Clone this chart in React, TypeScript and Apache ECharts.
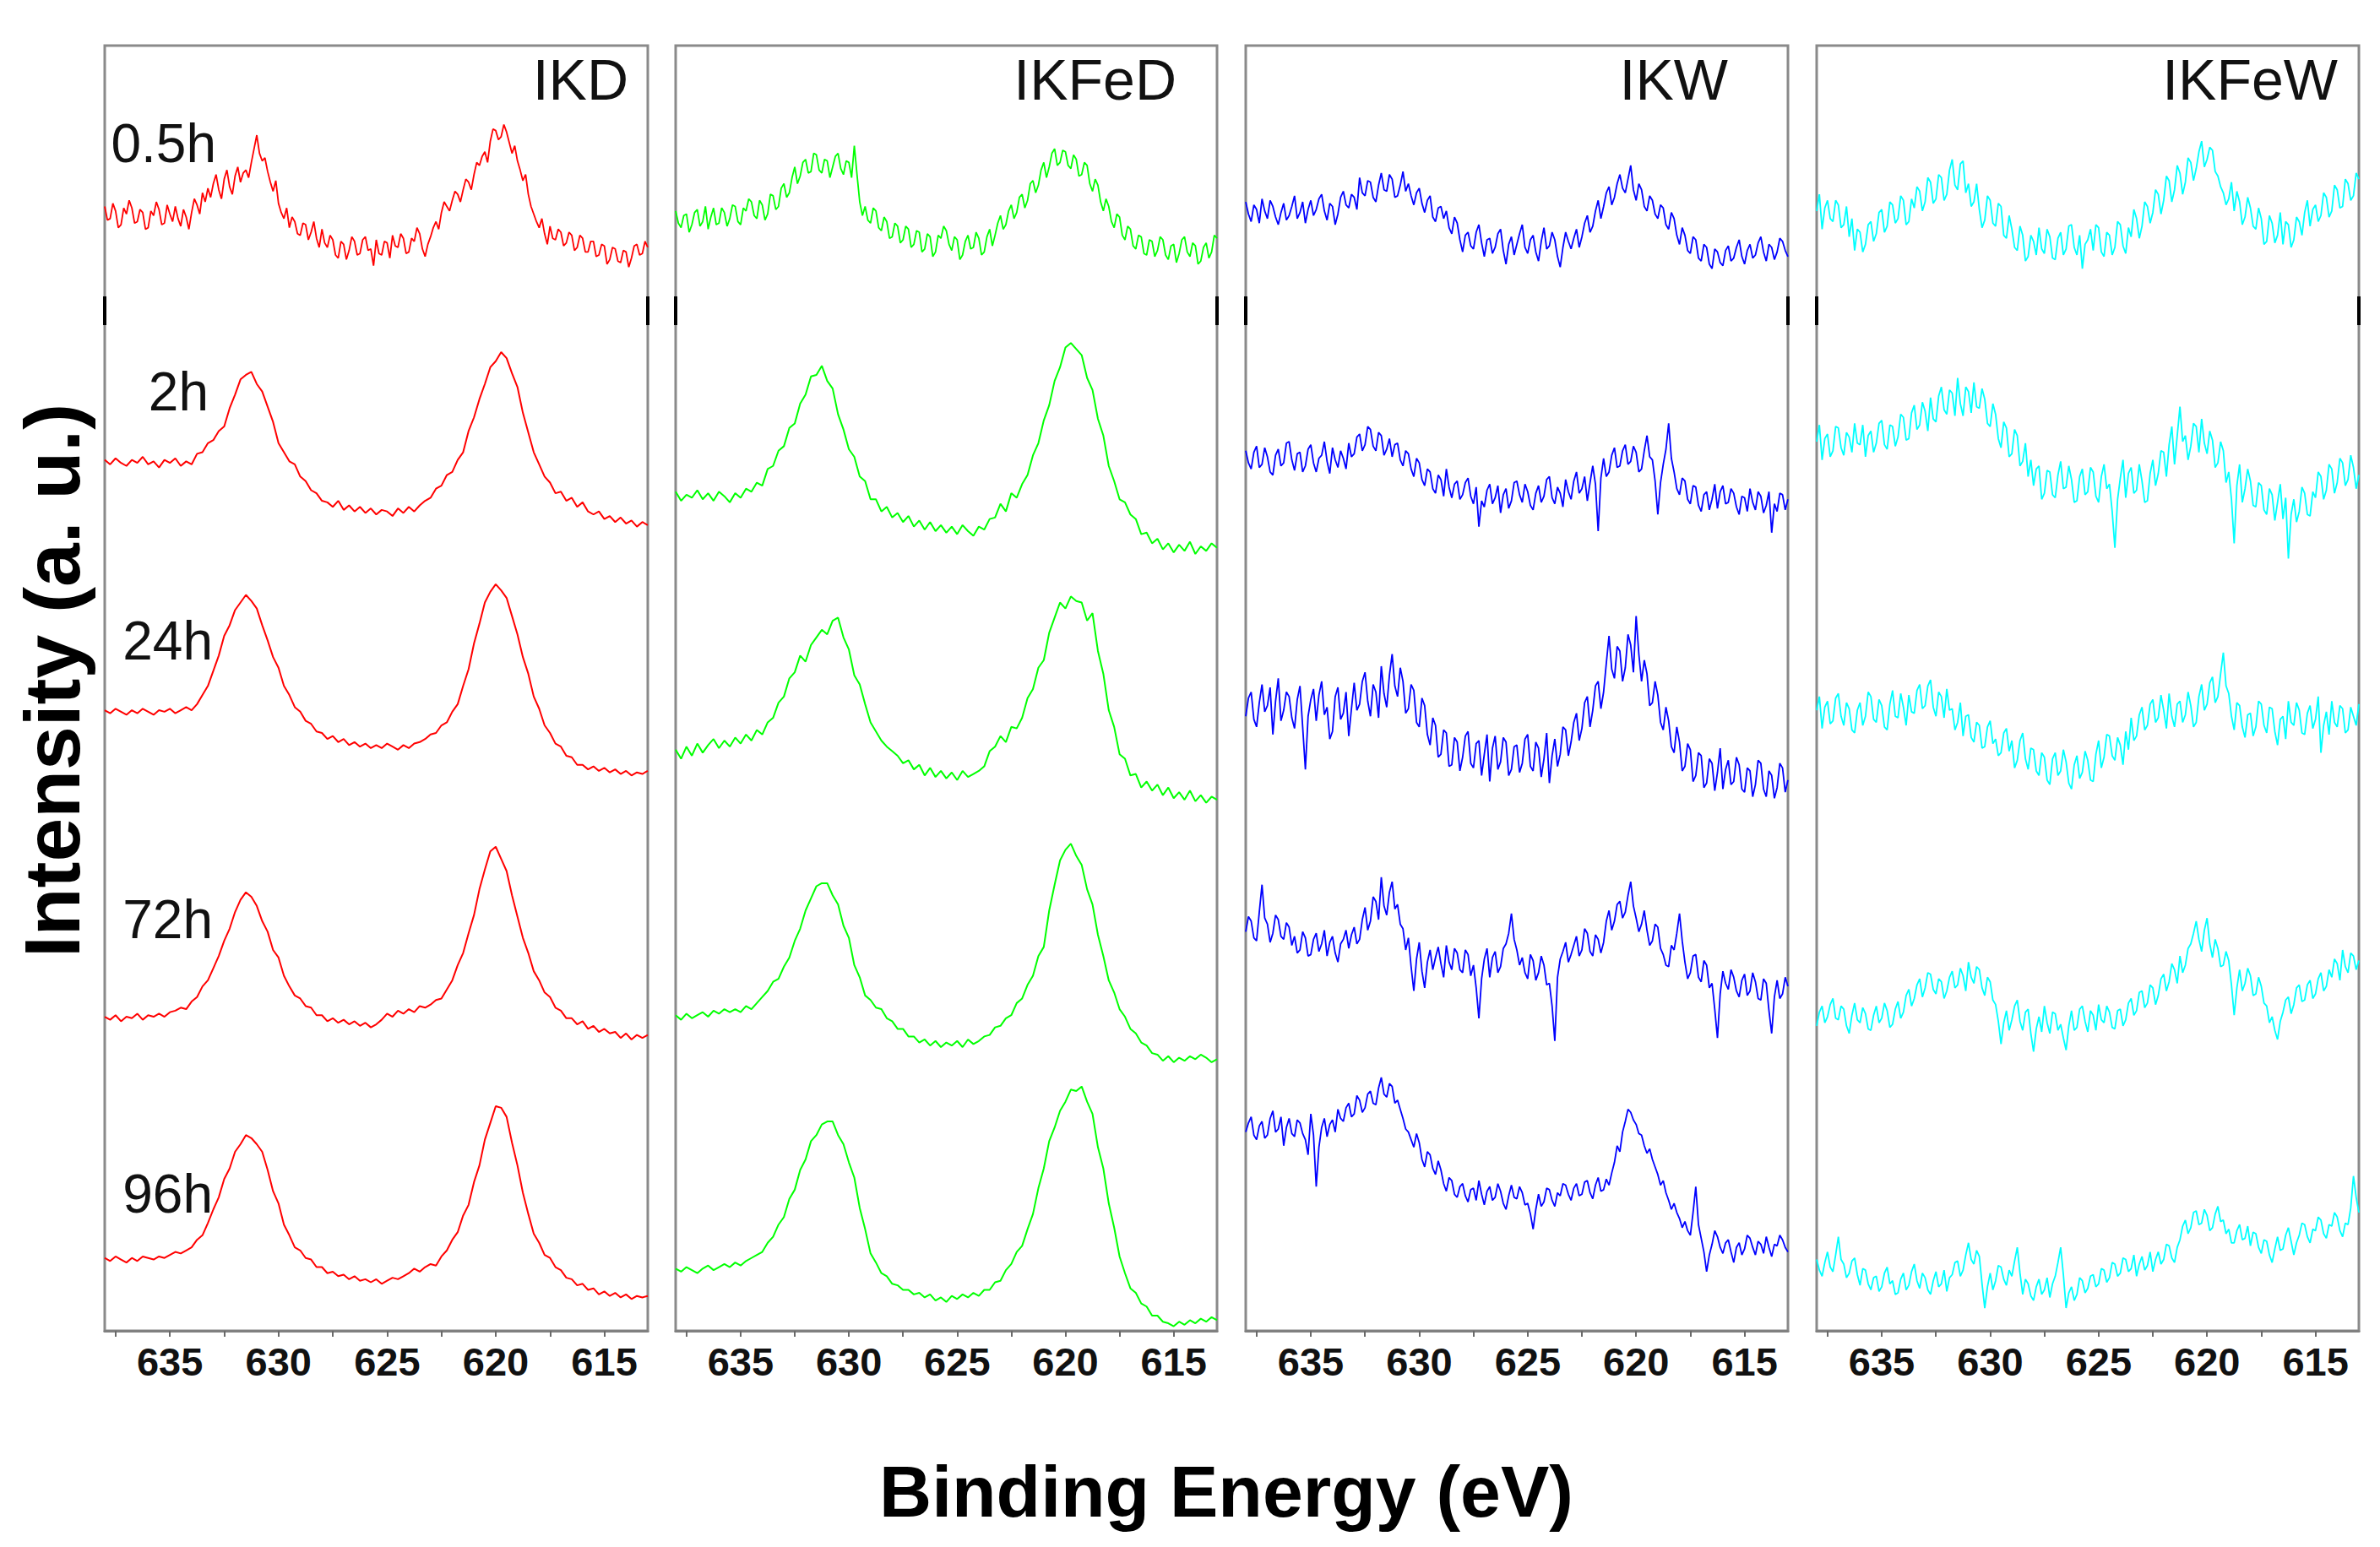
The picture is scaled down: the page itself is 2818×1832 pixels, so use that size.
import { useEffect, useRef } from 'react';
import * as echarts from 'echarts';

// binding energy grids (eV): coarse for the smooth scans, fine for the noisy ones
const energy = [
  638, 637.75, 637.5, 637.25, 637, 636.75, 636.5, 636.25, 636, 635.75, 635.5, 635.25, 635, 634.75, 634.5, 634.25,
  634, 633.75, 633.5, 633.25, 633, 632.75, 632.5, 632.25, 632, 631.75, 631.5, 631.25, 631, 630.75, 630.5, 630.25,
  630, 629.75, 629.5, 629.25, 629, 628.75, 628.5, 628.25, 628, 627.75, 627.5, 627.25, 627, 626.75, 626.5, 626.25,
  626, 625.75, 625.5, 625.25, 625, 624.75, 624.5, 624.25, 624, 623.75, 623.5, 623.25, 623, 622.75, 622.5, 622.25,
  622, 621.75, 621.5, 621.25, 621, 620.75, 620.5, 620.25, 620, 619.75, 619.5, 619.25, 619, 618.75, 618.5, 618.25,
  618, 617.75, 617.5, 617.25, 617, 616.75, 616.5, 616.25, 616, 615.75, 615.5, 615.25, 615, 614.75, 614.5, 614.25,
  614, 613.75, 613.5, 613.25, 613,
];
const energyFine = [
  638, 637.875, 637.75, 637.625, 637.5, 637.375, 637.25, 637.125,
  637, 636.875, 636.75, 636.625, 636.5, 636.375, 636.25, 636.125,
  636, 635.875, 635.75, 635.625, 635.5, 635.375, 635.25, 635.125,
  635, 634.875, 634.75, 634.625, 634.5, 634.375, 634.25, 634.125,
  634, 633.875, 633.75, 633.625, 633.5, 633.375, 633.25, 633.125,
  633, 632.875, 632.75, 632.625, 632.5, 632.375, 632.25, 632.125,
  632, 631.875, 631.75, 631.625, 631.5, 631.375, 631.25, 631.125,
  631, 630.875, 630.75, 630.625, 630.5, 630.375, 630.25, 630.125,
  630, 629.875, 629.75, 629.625, 629.5, 629.375, 629.25, 629.125,
  629, 628.875, 628.75, 628.625, 628.5, 628.375, 628.25, 628.125,
  628, 627.875, 627.75, 627.625, 627.5, 627.375, 627.25, 627.125,
  627, 626.875, 626.75, 626.625, 626.5, 626.375, 626.25, 626.125,
  626, 625.875, 625.75, 625.625, 625.5, 625.375, 625.25, 625.125,
  625, 624.875, 624.75, 624.625, 624.5, 624.375, 624.25, 624.125,
  624, 623.875, 623.75, 623.625, 623.5, 623.375, 623.25, 623.125,
  623, 622.875, 622.75, 622.625, 622.5, 622.375, 622.25, 622.125,
  622, 621.875, 621.75, 621.625, 621.5, 621.375, 621.25, 621.125,
  621, 620.875, 620.75, 620.625, 620.5, 620.375, 620.25, 620.125,
  620, 619.875, 619.75, 619.625, 619.5, 619.375, 619.25, 619.125,
  619, 618.875, 618.75, 618.625, 618.5, 618.375, 618.25, 618.125,
  618, 617.875, 617.75, 617.625, 617.5, 617.375, 617.25, 617.125,
  617, 616.875, 616.75, 616.625, 616.5, 616.375, 616.25, 616.125,
  616, 615.875, 615.75, 615.625, 615.5, 615.375, 615.25, 615.125,
  615, 614.875, 614.75, 614.625, 614.5, 614.375, 614.25, 614.125,
  614, 613.875, 613.75, 613.625, 613.5, 613.375, 613.25, 613.125,
  613,
];

const panelNames = ['IKD', 'IKFeD', 'IKW', 'IKFeW'];
const panelColors = ['#ff0000', '#00ff00', '#0000ff', '#00ffff'];
const timeLabels = ['0.5h', '2h', '24h', '72h', '96h'];
const xTickLabels = [615, 620, 625, 630, 635];
const xTickMarks = [615, 617.5, 620, 622.5, 625, 627.5, 630, 632.5, 635, 637.5];

// stacked intensities (offset already applied, arbitrary units)
const ikd05 = [
  741, 732, 733, 743, 738, 727, 729, 740, 736, 745, 740, 730, 731, 739, 737, 726, 727, 738, 735, 744,
  739, 729, 730, 742, 736, 731, 741, 733, 728, 739, 734, 726, 737, 746, 742, 736, 750, 744, 753, 747,
  756, 762, 752, 746, 759, 765, 754, 749, 761, 767, 757, 763, 765, 760, 770, 779, 788, 776, 771, 773,
  764, 757, 751, 758, 743, 737, 733, 740, 727, 734, 731, 723, 722, 730, 729, 719, 724, 731, 720, 714,
  726, 717, 714, 722, 719, 709, 707, 718, 716, 706, 712, 721, 718, 709, 710, 719, 721, 712, 713, 702,
  719, 710, 709, 718, 717, 707, 722, 715, 714, 723, 720, 710, 711, 720, 718, 727, 723, 713, 708, 716,
  721, 727, 731, 726, 737, 744, 741, 738, 745, 751, 749, 744, 752, 759, 757, 752, 762, 770, 768, 774,
  777, 770, 784, 792, 791, 785, 787, 795, 790, 783, 776, 781, 771, 765, 758, 762, 749, 741, 736, 731,
  727, 733, 723, 716, 728, 720, 719, 726, 724, 715, 717, 724, 722, 712, 714, 722, 720, 711, 711, 718,
  718, 708, 709, 716, 715, 703, 706, 714, 713, 705, 704, 712, 711, 701, 707, 715, 716, 709, 710, 718, 714,
];
const ikd2 = [
  574, 571, 575, 572, 570, 574, 572, 576, 571, 573, 569, 574, 572, 575, 570, 573, 571, 578, 579, 585,
  587, 593, 596, 608, 617, 627, 630, 632, 624, 619, 609, 599, 585, 579, 573, 571, 563, 560, 554, 552,
  547, 546, 543, 547, 541, 544, 540, 543, 539, 542, 538, 541, 540, 537, 542, 539, 543, 540, 544, 547,
  549, 555, 557, 564, 566, 574, 579, 593, 602, 614, 624, 635, 639, 645, 641, 631, 622, 605, 592, 579,
  571, 563, 559, 552, 553, 547, 549, 543, 546, 540, 538, 540, 535, 537, 533, 536, 532, 534, 530, 533, 531,
];
const ikd24 = [
  409, 407, 410, 408, 406, 409, 407, 410, 408, 406, 409, 408, 410, 407, 409, 411, 409, 413, 419, 425,
  435, 445, 458, 465, 475, 480, 485, 481, 476, 465, 455, 444, 437, 425, 419, 411, 408, 402, 400, 395,
  394, 390, 392, 388, 390, 386, 388, 385, 387, 384, 386, 384, 387, 385, 383, 386, 384, 387, 388, 390,
  393, 394, 399, 401, 408, 413, 425, 436, 453, 466, 480, 487, 492, 488, 483, 471, 459, 444, 433, 418,
  410, 399, 394, 387, 385, 379, 378, 373, 373, 370, 372, 369, 371, 368, 370, 367, 369, 366, 368, 367, 369,
];
const ikd72 = [
  207, 205, 208, 204, 207, 206, 209, 205, 208, 207, 209, 207, 210, 211, 213, 212, 217, 220, 227, 231,
  239, 247, 257, 265, 276, 284, 289, 286, 280, 270, 263, 251, 246, 234, 227, 221, 219, 214, 213, 208,
  208, 204, 206, 203, 205, 202, 204, 201, 203, 200, 202, 205, 209, 207, 211, 209, 212, 210, 214, 213,
  215, 218, 219, 225, 231, 241, 249, 262, 274, 291, 304, 316, 319, 311, 303, 287, 273, 259, 249, 237,
  231, 223, 220, 213, 211, 206, 206, 202, 204, 199, 201, 197, 199, 196, 197, 193, 196, 192, 195, 193, 195,
];
const ikd96 = [
  48, 46, 49, 47, 45, 48, 46, 49, 48, 47, 49, 48, 50, 52, 51, 53, 55, 60, 63, 71,
  80, 88, 100, 107, 118, 123, 129, 127, 123, 118, 106, 92, 84, 70, 63, 55, 53, 48, 47, 42,
  42, 38, 39, 36, 37, 34, 36, 33, 34, 32, 34, 31, 33, 35, 34, 36, 38, 41, 39, 42,
  44, 43, 49, 53, 60, 65, 76, 83, 98, 109, 126, 137, 148, 147, 141, 124, 109, 91, 77, 64,
  58, 50, 48, 42, 40, 35, 34, 30, 31, 27, 28, 24, 26, 23, 25, 22, 24, 21, 23, 22, 23,
];

const ikfed05 = [
  738, 730, 727, 735, 736, 724, 729, 737, 739, 728, 731, 741, 726, 734, 740, 729, 730, 740, 737, 728,
  733, 742, 741, 731, 729, 740, 738, 746, 744, 735, 733, 745, 742, 732, 736, 749, 748, 739, 741, 753,
  756, 747, 750, 760, 767, 756, 761, 770, 772, 763, 764, 776, 775, 765, 763, 772, 771, 760, 767, 774,
  776, 766, 762, 771, 770, 760, 781, 762, 744, 735, 741, 732, 730, 740, 738, 727, 725, 734, 731, 720,
  721, 730, 728, 717, 719, 728, 726, 714, 716, 725, 724, 711, 713, 723, 721, 708, 711, 722, 720, 728,
  725, 716, 712, 721, 719, 706, 709, 718, 722, 713, 714, 724, 720, 709, 711, 721, 726, 715, 722, 730,
  735, 726, 729, 738, 742, 733, 737, 747, 749, 740, 745, 756, 758, 750, 755, 765, 770, 760, 767, 776,
  779, 768, 770, 778, 777, 768, 766, 775, 772, 761, 762, 770, 768, 756, 751, 759, 755, 744, 738, 746,
  741, 731, 727, 736, 734, 722, 719, 728, 726, 715, 713, 722, 721, 710, 709, 719, 718, 708, 712, 721,
  719, 709, 706, 715, 716, 704, 710, 719, 721, 711, 708, 717, 715, 703, 705, 714, 717, 707, 711, 722, 720,
];
const ikfed2 = [
  553, 547, 551, 549, 554, 548, 552, 547, 553, 550, 546, 552, 549, 555, 553, 559, 557, 568, 570, 580,
  583, 595, 598, 611, 617, 629, 630, 636, 626, 621, 604, 594, 581, 576, 563, 560, 548, 548, 540, 543,
  536, 539, 533, 537, 530, 534, 528, 533, 527, 531, 526, 530, 525, 531, 527, 524, 530, 528, 535, 536,
  545, 540, 552, 549, 558, 564, 577, 585, 600, 610, 626, 635, 648, 651, 647, 643, 628, 620, 601, 590,
  570, 560, 548, 546, 538, 535, 525, 526, 519, 522, 515, 519, 513, 518, 514, 520, 512, 517, 514, 519, 516,
];
const ikfed24 = [
  383, 377, 385, 379, 387, 381, 386, 390, 384, 389, 385, 391, 387, 393, 389, 396, 393, 401, 404, 414,
  418, 430, 434, 445, 441, 452, 457, 462, 459, 468, 470, 457, 449, 432, 426, 413, 401, 395, 389, 385,
  382, 379, 374, 376, 370, 373, 366, 371, 365, 369, 364, 368, 363, 369, 365, 367, 369, 372, 382, 385,
  392, 388, 398, 397, 404, 417, 423, 437, 442, 460, 470, 480, 476, 484, 481, 480, 468, 473, 448, 433,
  409, 398, 380, 377, 366, 367, 358, 362, 356, 360, 353, 358, 351, 355, 350, 356, 349, 353, 348, 352, 350,
];
const ikfed72 = [
  208, 205, 209, 206, 208, 210, 207, 211, 209, 212, 210, 212, 210, 214, 212, 216, 220, 224, 230, 232,
  240, 246, 257, 265, 277, 285, 293, 295, 295, 287, 281, 267, 259, 241, 233, 221, 218, 213, 212, 206,
  204, 199, 199, 194, 194, 190, 192, 188, 191, 187, 190, 188, 191, 187, 192, 189, 191, 194, 195, 200,
  201, 206, 208, 216, 219, 228, 234, 247, 253, 277, 294, 310, 317, 321, 313, 307, 291, 281, 261, 247,
  231, 223, 212, 207, 199, 196, 190, 188, 183, 182, 178, 181, 177, 180, 178, 181, 179, 182, 180, 177, 179,
];
const ikfed96 = [
  41, 39, 42, 40, 38, 41, 43, 40, 42, 44, 42, 45, 43, 46, 48, 50, 52, 58, 62, 70,
  75, 87, 93, 106, 113, 125, 129, 136, 138, 138, 129, 123, 111, 101, 81, 67, 51, 45, 38, 36,
  31, 30, 27, 27, 24, 25, 22, 24, 20, 22, 19, 23, 21, 24, 22, 25, 23, 27, 27, 32,
  33, 40, 44, 52, 56, 67, 77, 94, 107, 125, 134, 145, 151, 159, 158, 161, 151, 143, 121, 107,
  84, 68, 49, 38, 28, 25, 18, 16, 10, 10, 6, 5, 3, 6, 4, 7, 5, 8, 6, 9, 7,
];

const ikw05 = [
  744, 736, 731, 742, 739, 730, 746, 738, 733, 745, 741, 734, 729, 737, 743, 732, 735, 741, 748, 733,
  737, 744, 730, 739, 745, 735, 739, 746, 749, 738, 732, 743, 741, 729, 736, 747, 751, 742, 740, 749,
  747, 739, 760, 750, 748, 758, 757, 747, 744, 755, 763, 752, 751, 762, 759, 747, 748, 755, 764, 751,
  756, 748, 742, 750, 753, 743, 737, 745, 748, 734, 731, 740, 741, 733, 738, 727, 723, 734, 730, 719,
  711, 722, 724, 715, 713, 724, 729, 717, 708, 719, 720, 710, 714, 723, 726, 712, 703, 716, 721, 709,
  716, 723, 729, 714, 710, 719, 722, 711, 705, 718, 727, 713, 715, 724, 719, 708, 701, 714, 724, 718,
  713, 720, 726, 714, 721, 730, 735, 724, 728, 738, 745, 733, 741, 750, 754, 742, 747, 756, 762, 753,
  750, 759, 768, 752, 745, 756, 752, 741, 738, 748, 745, 736, 733, 742, 740, 729, 726, 737, 733, 722,
  716, 727, 722, 712, 710, 721, 719, 707, 705, 716, 714, 703, 700, 713, 711, 704, 702, 712, 715, 705,
  707, 714, 719, 708, 703, 712, 716, 707, 709, 717, 721, 711, 705, 716, 714, 706, 711, 720, 718, 712, 708,
];
const ikw2 = [
  580, 572, 568, 579, 583, 569, 571, 582, 576, 566, 564, 577, 581, 570, 572, 585, 586, 574, 567, 578,
  579, 566, 570, 581, 584, 572, 566, 575, 577, 586, 573, 565, 582, 574, 569, 580, 575, 568, 585, 576,
  578, 589, 591, 580, 584, 596, 594, 583, 580, 592, 590, 577, 581, 588, 576, 584, 585, 574, 570, 580,
  578, 568, 563, 575, 572, 561, 557, 568, 566, 555, 552, 564, 561, 550, 568, 556, 549, 558, 560, 548,
  551, 559, 562, 550, 545, 556, 530, 547, 543, 554, 558, 545, 549, 557, 539, 551, 555, 542, 547, 559,
  560, 551, 546, 558, 553, 544, 541, 552, 557, 546, 550, 561, 563, 549, 545, 556, 552, 543, 561, 553,
  548, 560, 566, 552, 555, 563, 547, 559, 570, 558, 527, 562, 575, 563, 566, 577, 582, 569, 570, 580,
  584, 571, 573, 583, 579, 566, 568, 580, 590, 576, 574, 560, 538, 559, 571, 581, 598, 575, 566, 555,
  551, 562, 560, 548, 545, 557, 556, 544, 540, 551, 553, 541, 548, 558, 542, 553, 557, 545, 546, 555,
  552, 543, 538, 550, 549, 540, 555, 546, 541, 553, 550, 539, 544, 553, 526, 545, 540, 552, 551, 541, 548,
];
const ikw24 = [
  405, 417, 421, 403, 398, 414, 426, 408, 412, 424, 393, 415, 430, 402, 409, 421, 418, 404, 397, 416,
  425, 398, 370, 405, 416, 423, 402, 419, 428, 406, 411, 390, 395, 418, 424, 403, 407, 421, 392, 410,
  427, 409, 413, 428, 434, 415, 405, 426, 421, 404, 438, 420, 411, 432, 446, 425, 418, 437, 428, 407,
  410, 426, 422, 401, 398, 417, 412, 393, 386, 404, 399, 378, 380, 396, 394, 372, 373, 391, 388, 369,
  378, 392, 395, 374, 371, 387, 389, 366, 380, 393, 362, 384, 392, 370, 375, 391, 388, 366, 370, 385,
  386, 368, 374, 390, 393, 372, 369, 388, 384, 365, 377, 394, 361, 379, 390, 372, 380, 398, 396, 379,
  388, 401, 407, 389, 397, 414, 418, 398, 409, 425, 428, 410, 421, 440, 458, 436, 430, 451, 448, 428,
  437, 459, 452, 434, 471, 446, 428, 442, 433, 412, 414, 428, 419, 401, 396, 411, 402, 385, 381, 398,
  388, 369, 372, 387, 383, 362, 366, 381, 379, 358, 361, 377, 374, 356, 368, 384, 357, 370, 376, 360,
  362, 378, 373, 357, 355, 371, 369, 352, 360, 376, 374, 357, 352, 369, 366, 351, 358, 374, 371, 355, 363,
];
const ikw72 = [
  263, 273, 270, 259, 257, 276, 294, 272, 268, 256, 262, 274, 271, 260, 258, 269, 266, 254, 260, 249,
  251, 263, 259, 247, 248, 258, 262, 250, 255, 264, 247, 256, 260, 249, 243, 255, 258, 264, 252, 261,
  266, 255, 258, 271, 279, 264, 270, 286, 283, 271, 299, 280, 274, 289, 296, 278, 281, 268, 265, 251,
  259, 240, 224, 245, 256, 237, 226, 243, 251, 238, 246, 253, 242, 233, 254, 243, 238, 252, 249, 238,
  236, 251, 248, 234, 241, 226, 206, 232, 245, 252, 233, 246, 250, 236, 240, 252, 255, 262, 275, 258,
  251, 241, 246, 236, 232, 248, 244, 231, 236, 247, 241, 228, 229, 214, 191, 233, 245, 250, 256, 243,
  248, 254, 260, 247, 251, 265, 262, 250, 247, 261, 258, 249, 256, 270, 277, 264, 270, 281, 283, 272,
  276, 287, 296, 280, 272, 263, 268, 277, 264, 254, 257, 268, 266, 252, 248, 241, 240, 254, 251, 262,
  275, 257, 243, 232, 236, 247, 248, 233, 230, 244, 241, 226, 229, 212, 193, 222, 237, 229, 225, 238,
  233, 224, 220, 231, 235, 221, 224, 236, 230, 219, 218, 232, 229, 211, 196, 220, 231, 219, 222, 233, 227,
];
const ikw96 = [
  131, 137, 141, 129, 126, 135, 138, 127, 129, 140, 145, 131, 133, 141, 122, 134, 140, 130, 128, 139,
  137, 130, 126, 116, 143, 129, 95, 121, 134, 140, 128, 136, 139, 131, 146, 140, 138, 147, 150, 141,
  143, 155, 152, 144, 147, 156, 158, 150, 149, 160, 167, 156, 154, 163, 161, 150, 152, 146, 140, 133,
  131, 126, 121, 130, 124, 113, 108, 118, 116, 107, 103, 112, 106, 97, 92, 101, 99, 90, 88, 95,
  97, 89, 85, 93, 94, 86, 99, 90, 83, 92, 95, 86, 88, 97, 92, 84, 80, 89, 96, 88,
  87, 95, 91, 83, 84, 77, 67, 80, 90, 82, 85, 94, 93, 86, 82, 91, 89, 97, 96, 90,
  86, 94, 97, 89, 90, 98, 99, 91, 87, 96, 101, 92, 93, 100, 96, 104, 111, 122, 118, 131,
  138, 146, 144, 139, 136, 130, 129, 122, 117, 120, 113, 108, 103, 96, 99, 91, 86, 80, 84, 78,
  74, 68, 72, 66, 63, 78, 95, 70, 61, 52, 39, 50, 57, 66, 62, 55, 51, 58, 60, 52,
  45, 55, 58, 50, 54, 63, 61, 55, 50, 59, 57, 51, 62, 55, 49, 57, 56, 63, 60, 55, 52,
];

const ikfew05 = [
  738, 749, 726, 740, 745, 733, 731, 745, 742, 727, 729, 741, 721, 733, 712, 726, 724, 711, 716, 729,
  731, 718, 723, 737, 739, 724, 728, 744, 742, 730, 733, 748, 745, 729, 731, 746, 740, 754, 751, 738,
  744, 760, 757, 743, 746, 762, 760, 745, 749, 765, 772, 755, 752, 769, 771, 750, 756, 741, 744, 756,
  739, 727, 732, 748, 745, 730, 728, 743, 741, 722, 720, 735, 726, 714, 712, 728, 722, 705, 708, 722,
  718, 709, 727, 713, 710, 726, 721, 707, 706, 720, 724, 709, 713, 728, 729, 714, 709, 722, 700, 716,
  719, 726, 712, 729, 727, 711, 708, 724, 722, 709, 714, 731, 729, 715, 710, 727, 721, 739, 733, 720,
  728, 744, 741, 730, 737, 752, 749, 736, 745, 761, 758, 744, 752, 768, 763, 749, 757, 773, 770, 758,
  766, 777, 784, 767, 772, 780, 778, 764, 761, 754, 750, 742, 746, 757, 738, 751, 744, 729, 734, 747,
  740, 728, 726, 740, 733, 716, 718, 735, 730, 717, 722, 737, 716, 731, 729, 714, 719, 734, 731, 722,
  737, 745, 728, 739, 742, 731, 735, 750, 747, 734, 738, 755, 752, 740, 741, 759, 756, 745, 748, 763, 759,
];
const ikfew2 = [
  586, 597, 574, 588, 591, 576, 580, 596, 595, 582, 577, 592, 589, 579, 598, 585, 584, 597, 576, 590,
  593, 579, 585, 598, 600, 584, 581, 597, 596, 583, 589, 604, 602, 587, 588, 605, 610, 594, 597, 612,
  606, 593, 615, 601, 599, 616, 622, 607, 604, 620, 618, 603, 628, 611, 603, 622, 619, 605, 625, 609,
  608, 621, 614, 598, 596, 611, 604, 588, 582, 599, 595, 576, 578, 594, 590, 570, 573, 585, 563, 574,
  557, 568, 570, 548, 552, 567, 566, 551, 549, 564, 573, 555, 556, 570, 561, 546, 547, 563, 568, 551,
  553, 569, 566, 550, 546, 563, 571, 555, 558, 540, 516, 548, 562, 574, 549, 565, 569, 552, 554, 571,
  560, 546, 547, 565, 574, 557, 565, 580, 579, 563, 584, 596, 571, 590, 609, 586, 590, 574, 583, 598,
  596, 579, 601, 585, 578, 593, 587, 569, 572, 586, 580, 559, 566, 548, 519, 557, 571, 546, 555, 568,
  560, 544, 543, 559, 557, 541, 538, 555, 551, 534, 546, 558, 535, 549, 509, 538, 548, 533, 540, 556,
  552, 538, 537, 553, 549, 566, 563, 548, 554, 571, 568, 552, 559, 575, 572, 557, 561, 577, 569, 555, 564,
];
const ikfew24 = [
  409, 418, 397, 411, 415, 400, 402, 417, 420, 405, 399, 414, 410, 396, 394, 409, 414, 399, 405, 421,
  418, 403, 401, 416, 412, 398, 396, 413, 422, 405, 404, 420, 411, 399, 419, 408, 407, 422, 426, 410,
  412, 425, 429, 411, 405, 421, 418, 404, 423, 409, 410, 396, 401, 414, 392, 405, 406, 391, 388, 401,
  399, 384, 385, 398, 402, 387, 390, 379, 381, 394, 397, 382, 389, 371, 376, 389, 394, 377, 370, 384,
  383, 369, 366, 381, 378, 363, 360, 377, 381, 366, 369, 383, 375, 361, 357, 373, 379, 364, 368, 382,
  376, 363, 362, 380, 389, 371, 378, 393, 392, 379, 376, 391, 386, 373, 395, 383, 404, 389, 392, 406,
  411, 396, 399, 413, 416, 401, 404, 419, 409, 397, 420, 405, 398, 413, 415, 401, 406, 421, 412, 398,
  401, 418, 426, 409, 413, 427, 431, 414, 418, 433, 447, 425, 420, 405, 396, 414, 412, 398, 391, 406,
  407, 392, 398, 415, 413, 399, 394, 411, 410, 395, 386, 403, 405, 390, 415, 401, 399, 414, 409, 394,
  393, 407, 412, 397, 403, 418, 381, 399, 408, 393, 415, 401, 398, 412, 410, 394, 396, 411, 405, 399, 413,
];
const ikfew72 = [
  201, 210, 214, 203, 207, 215, 219, 206, 205, 214, 212, 201, 196, 208, 216, 205, 203, 213, 209, 199,
  198, 208, 214, 203, 206, 216, 211, 200, 202, 212, 217, 206, 210, 221, 225, 214, 219, 228, 232, 220,
  226, 236, 235, 225, 222, 232, 230, 219, 224, 233, 237, 226, 228, 239, 234, 224, 243, 233, 229, 240,
  238, 226, 221, 233, 230, 218, 215, 204, 189, 203, 211, 198, 205, 214, 218, 204, 198, 210, 212, 196,
  184, 199, 207, 197, 214, 203, 196, 210, 209, 198, 202, 193, 185, 201, 211, 198, 200, 212, 214, 204,
  197, 211, 208, 198, 215, 205, 203, 214, 210, 200, 199, 211, 212, 201, 205, 216, 219, 208, 211, 223,
  224, 213, 216, 228, 226, 215, 221, 232, 235, 224, 230, 242, 238, 229, 247, 236, 241, 252, 255, 262,
  270, 258, 250, 264, 272, 255, 246, 258, 252, 240, 241, 250, 244, 228, 208, 226, 238, 224, 229, 239,
  234, 221, 222, 233, 227, 216, 214, 203, 207, 198, 192, 204, 210, 218, 220, 209, 215, 226, 228, 217,
  218, 228, 231, 219, 222, 232, 236, 224, 227, 238, 233, 245, 242, 231, 251, 240, 236, 249, 247, 238, 244,
];
const ikfew96 = [
  47, 40, 36, 45, 52, 42, 39, 50, 62, 47, 44, 35, 38, 46, 48, 37, 30, 41, 40, 31,
  27, 35, 36, 26, 29, 38, 42, 31, 33, 24, 25, 34, 38, 27, 30, 39, 44, 33, 28, 38,
  35, 27, 24, 33, 39, 29, 31, 40, 26, 35, 37, 45, 46, 36, 40, 50, 58, 47, 44, 53,
  49, 31, 15, 29, 38, 27, 33, 43, 42, 34, 30, 40, 36, 46, 55, 38, 24, 34, 31, 23,
  20, 29, 34, 24, 27, 35, 22, 31, 36, 45, 55, 37, 15, 25, 29, 20, 24, 35, 33, 25,
  28, 36, 37, 29, 31, 41, 40, 32, 35, 45, 44, 36, 38, 48, 47, 39, 41, 50, 36, 44,
  49, 40, 43, 52, 39, 47, 52, 44, 47, 57, 56, 48, 45, 55, 60, 69, 73, 64, 68, 78,
  79, 70, 71, 80, 76, 66, 68, 77, 82, 72, 73, 64, 67, 58, 58, 66, 70, 60, 61, 69,
  56, 65, 64, 55, 51, 60, 59, 50, 45, 54, 62, 53, 54, 63, 68, 59, 50, 58, 63, 71,
  70, 62, 58, 67, 66, 75, 73, 64, 61, 70, 69, 78, 75, 66, 62, 71, 70, 81, 102, 88, 78,
];

const panelTraces = [
  [ikd05, ikd2, ikd24, ikd72, ikd96],
  [ikfed05, ikfed2, ikfed24, ikfed72, ikfed96],
  [ikw05, ikw2, ikw24, ikw72, ikw96],
  [ikfew05, ikfew2, ikfew24, ikfew72, ikfew96],
];

const FONT = '"Liberation Sans", Arial, Helvetica, sans-serif';
const PANEL_LEFT = [124, 800, 1475, 2151];
const PANEL_WIDTH = [643, 641, 642, 642];
const PANEL_TOP = 54;
const PANEL_HEIGHT = 1522;
const TITLE_RIGHT = [744, 1393, 2046, 2768];
const TIME_RIGHT = [256, 247, 252, 252, 252];
const TIME_Y = [170, 464, 759, 1089, 1414];

export default function App() {
  const chartRef = useRef<HTMLDivElement>(null);

  useEffect(() => {
    if (!chartRef.current) return;
    const chart = echarts.init(chartRef.current, null, { renderer: 'svg' });

    const grid = panelNames.map((_, p) => ({
      left: PANEL_LEFT[p],
      top: PANEL_TOP,
      width: PANEL_WIDTH[p],
      height: PANEL_HEIGHT,
      show: true,
      borderColor: '#8a8a8a',
      borderWidth: 3,
    }));

    const xAxis = panelNames.map((_, p) => ({
      type: 'value',
      gridIndex: p,
      min: 613,
      max: 638,
      inverse: true,
      axisLine: { show: true, onZero: false, lineStyle: { color: '#808080', width: 3 } },
      axisTick: {
        show: true,
        inside: false,
        length: 7,
        customValues: xTickMarks,
        lineStyle: { color: '#6a6a6a', width: 2 },
      },
      axisLabel: {
        show: true,
        customValues: xTickLabels,
        margin: 13,
        fontSize: 47,
        fontWeight: 'bold',
        fontFamily: FONT,
        color: '#111',
      },
      splitLine: { show: false },
    }));

    const yAxis = panelNames.map((_, p) => ({
      type: 'value',
      gridIndex: p,
      min: 0,
      max: 847,
      show: false,
    }));

    const series: any[] = [];
    panelTraces.forEach((traces, p) => {
      traces.forEach((vals, t) => {
        const xs = vals.length === energyFine.length ? energyFine : energy;
        series.push({
          name: `${panelNames[p]} ${timeLabels[t]}`,
          type: 'line',
          xAxisIndex: p,
          yAxisIndex: p,
          data: xs.map((e, k) => [e, vals[k]]),
          showSymbol: false,
          symbol: 'none',
          silent: true,
          lineStyle: { color: panelColors[p], width: xs === energyFine ? 1.8 : 2 },
          itemStyle: { color: panelColors[p] },
        });
      });
    });

    const graphic: any[] = [];
    panelNames.forEach((name, p) => {
      graphic.push({
        type: 'text',
        x: TITLE_RIGHT[p],
        y: 94,
        style: { text: name, fontSize: 68, fontFamily: FONT, fill: '#111', align: 'right', verticalAlign: 'middle' },
      });
      // short dark joins on the frame between first and second trace
      [PANEL_LEFT[p], PANEL_LEFT[p] + PANEL_WIDTH[p]].forEach((x) => {
        graphic.push({
          type: 'line',
          shape: { x1: x, y1: 351, x2: x, y2: 385 },
          style: { stroke: '#000', lineWidth: 4 },
        });
      });
    });
    timeLabels.forEach((label, t) => {
      graphic.push({
        type: 'text',
        x: TIME_RIGHT[t],
        y: TIME_Y[t],
        style: { text: label, fontSize: 64, fontFamily: FONT, fill: '#111', align: 'right', verticalAlign: 'middle' },
      });
    });
    graphic.push({
      type: 'text',
      x: 1452,
      y: 1766,
      style: {
        text: 'Binding Energy (eV)',
        fontSize: 86,
        fontWeight: 'bold',
        fontFamily: FONT,
        fill: '#000',
        align: 'center',
        verticalAlign: 'middle',
      },
    });
    graphic.push({
      type: 'text',
      x: 62,
      y: 806,
      rotation: Math.PI / 2,
      style: {
        text: 'Intensity (a. u.)',
        fontSize: 93,
        fontWeight: 'bold',
        fontFamily: FONT,
        fill: '#000',
        align: 'center',
        verticalAlign: 'middle',
      },
    });

    chart.setOption({
      animation: false,
      backgroundColor: '#ffffff',
      grid,
      xAxis,
      yAxis,
      series,
      graphic,
    });

    return () => {
      chart.dispose();
    };
  }, []);

  return (
    <div
      ref={chartRef}
      style={{ position: 'fixed', left: 0, top: 0, width: 2818, height: 1832, background: '#fff' }}
    />
  );
}
